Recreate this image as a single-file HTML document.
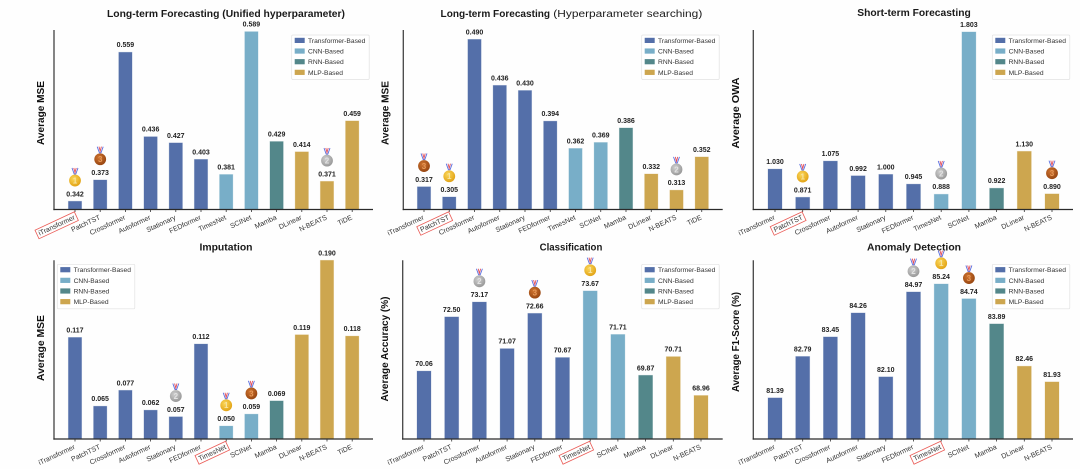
<!DOCTYPE html>
<html lang="en">
<head>
<meta charset="utf-8">
<title>Model benchmark bar charts</title>
<style>
  html, body { margin: 0; padding: 0; background: #fefefe; width: 1080px; height: 469px; overflow: hidden; }
  svg { display: block; filter: blur(0.3px); font-family: "Liberation Sans", sans-serif; }
</style>
</head>
<body>
<svg id="fig" width="1080" height="469" viewBox="0 0 1080 469" xmlns="http://www.w3.org/2000/svg">
  <defs>
    <radialGradient id="grad-gold" cx="40%" cy="35%" r="70%"><stop offset="0" stop-color="#fbd75a"/><stop offset="1" stop-color="#e0a012"/></radialGradient>
    <radialGradient id="grad-silver" cx="40%" cy="35%" r="70%"><stop offset="0" stop-color="#cfcfcf"/><stop offset="1" stop-color="#959595"/></radialGradient>
    <radialGradient id="grad-bronze" cx="40%" cy="35%" r="70%"><stop offset="0" stop-color="#cf7430"/><stop offset="1" stop-color="#94430f"/></radialGradient>
  </defs>
</svg>
<script>
// ---- data ----
const modelsTwelve = ['iTransformer','PatchTST','Crossformer','Autoformer','Stationary','FEDformer','TimesNet','SCINet','Mamba','DLinear','N-BEATS','TiDE'];
const modelsEleven = ['iTransformer','PatchTST','Crossformer','Autoformer','Stationary','FEDformer','TimesNet','SCINet','Mamba','DLinear','N-BEATS'];
const familyTwelve = ['T','T','T','T','T','T','C','C','R','M','M','M'];
const familyEleven = ['T','T','T','T','T','T','C','C','R','M','M'];

const valuesUnified = [0.342,0.373,0.559,0.436,0.427,0.403,0.381,0.589,0.429,0.414,0.371,0.459];
const labelsUnified = ['0.342','0.373','0.559','0.436','0.427','0.403','0.381','0.589','0.429','0.414','0.371','0.459'];
const valuesSearch = [0.317,0.305,0.490,0.436,0.430,0.394,0.362,0.369,0.386,0.332,0.313,0.352];
const labelsSearch = ['0.317','0.305','0.490','0.436','0.430','0.394','0.362','0.369','0.386','0.332','0.313','0.352'];
const valuesShort = [1.030,0.871,1.075,0.992,1.000,0.945,0.888,1.803,0.922,1.130,0.890];
const labelsShort = ['1.030','0.871','1.075','0.992','1.000','0.945','0.888','1.803','0.922','1.130','0.890'];
const valuesImpute = [0.117,0.065,0.077,0.062,0.057,0.112,0.050,0.059,0.069,0.119,0.190,0.118];
const labelsImpute = ['0.117','0.065','0.077','0.062','0.057','0.112','0.050','0.059','0.069','0.119','0.190','0.118'];
const valuesClass = [70.06,72.50,73.17,71.07,72.66,70.67,73.67,71.71,69.87,70.71,68.96];
const labelsClass = ['70.06','72.50','73.17','71.07','72.66','70.67','73.67','71.71','69.87','70.71','68.96'];
const valuesAnomaly = [81.39,82.79,83.45,84.26,82.10,84.97,85.24,84.74,83.89,82.46,81.93];
const labelsAnomaly = ['81.39','82.79','83.45','84.26','82.10','84.97','85.24','84.74','83.89','82.46','81.93'];

const medalsUnified = {0:1, 10:2, 1:3};
const medalsSearch = {1:1, 10:2, 0:3};
const medalsShort = {1:1, 6:2, 10:3};
const medalsImpute = {6:1, 4:2, 7:3};
const medalsClass = {6:1, 2:2, 4:3};
const medalsAnomaly = {6:1, 5:2, 7:3};

const legendEntries = [['T','Transformer-Based'],['C','CNN-Based'],['R','RNN-Based'],['M','MLP-Based']];
const familyColor = {T:'#546fa9', C:'#78aec8', R:'#53878a', M:'#cda64f'};
const medalGrad = {1:'url(#grad-gold)', 2:'url(#grad-silver)', 3:'url(#grad-bronze)'};
const medalInk = {1:'#f7e4a0', 2:'#e2e2e2', 3:'#e89a5a'};

// ---- panel layout ----
const panels = [
  {id:'unified', models:modelsTwelve, fam:familyTwelve, vals:valuesUnified, labs:labelsUnified, medals:medalsUnified, best:0,
   ax:54, x0:75, step:25.2, bw:13.3, axEnd:373, top:30, base:209.5, dMin:0.330, dMax:0.5914,
   yTitle:'Average MSE', yX:40, yC:113, yLen:64, lgX:291.7, lgY:35},
  {id:'search', models:modelsTwelve, fam:familyTwelve, vals:valuesSearch, labs:labelsSearch, medals:medalsSearch, best:1,
   ax:403.3, x0:424, step:25.25, bw:13.3, axEnd:722.7, top:30, base:209.5, dMin:0.2903, dMax:0.501,
   yTitle:'Average MSE', yX:384.3, yC:113, yLen:64, lgX:641.7, lgY:35},
  {id:'short', models:modelsEleven, fam:familyEleven, vals:valuesShort, labs:labelsShort, medals:medalsShort, best:1,
   ax:753.3, x0:775, step:27.7, bw:14, axEnd:1073, top:30, base:209.5, dMin:0.802, dMax:1.814,
   yTitle:'Average OWA', yX:735, yC:113, yLen:71, lgX:992.3, lgY:35},
  {id:'imputation', models:modelsTwelve, fam:familyTwelve, vals:valuesImpute, labs:labelsImpute, medals:medalsImpute, best:6,
   ax:54, x0:75, step:25.2, bw:13.3, axEnd:373, top:260.3, base:439, dMin:0.0402, dMax:0.1753,
   yTitle:'Average MSE', yX:40, yC:348, yLen:66, lgX:57.3, lgY:264.3},
  {id:'classification', models:modelsEleven, fam:familyEleven, vals:valuesClass, labs:labelsClass, medals:medalsClass, best:6,
   ax:402.7, x0:424, step:27.7, bw:14, axEnd:722.7, top:260.3, base:439, dMin:67, dMax:75.05,
   yTitle:'Average Accuracy (%)', yX:384, yC:349, yLen:105, lgX:641.7, lgY:264.3},
  {id:'anomaly', models:modelsEleven, fam:familyEleven, vals:valuesAnomaly, labs:labelsAnomaly, medals:medalsAnomaly, best:6,
   ax:753.3, x0:775, step:27.7, bw:14, axEnd:1073, top:260.3, base:439, dMin:80, dMax:86.04,
   yTitle:'Average F1-Score (%)', yX:735, yC:342, yLen:100, lgX:992.3, lgY:264.3}
];

const titles = [
  {text:'Long-term Forecasting (Unified hyperparameter)', x:226, y:17, len:238, w:'bold'},
  {text:'Long-term Forecasting', x:495.3, y:17, len:109.5, w:'bold'},
  {text:'(Hyperparameter searching)', x:627.8, y:17, len:149, w:'normal'},
  {text:'Short-term Forecasting', x:914, y:16, len:113.5, w:'bold'},
  {text:'Imputation', x:226, y:250.7, len:53, w:'bold'},
  {text:'Classification', x:571, y:250.7, len:62.7, w:'bold'},
  {text:'Anomaly Detection', x:914, y:250.7, len:94, w:'bold'}
];

// ---- drawing ----
const NS = 'http://www.w3.org/2000/svg';
const fig = document.getElementById('fig');
function mk(tag, parent, props) {
  const el = document.createElementNS(NS, tag);
  for (const k in props) el.setAttribute(k, props[k]);
  parent.appendChild(el);
  return el;
}

titles.forEach(function (t) {
  const el = mk('text', fig, {x:t.x, y:t.y, 'text-anchor':'middle', 'font-size':10, 'font-weight':t.w, fill:'#1a1a1a', textLength:t.len, lengthAdjust:'spacingAndGlyphs'});
  
  
  el.textContent = t.text;
});

function drawPanel(p) {
  const g = mk('g', fig, {});
  
  

  const xAt = function (i) { return p.x0 + i * p.step; };
  const yAt = function (v) {
    const y = p.base - (v - p.dMin) / (p.dMax - p.dMin) * (p.base - p.top);
    return Math.max(p.top, Math.min(p.base, y));
  };

  // y axis title
  const yt = mk('text', g, {transform:'translate(' + p.yX + ',' + p.yC + ') rotate(-90)', 'text-anchor':'middle', y:4, 'font-size':10.5, 'font-weight':'bold', fill:'#111', textLength:p.yLen, lengthAdjust:'spacingAndGlyphs'});
  
  
  yt.textContent = p.yTitle;

  // bars, value labels, ticks, tick labels, medals
  p.vals.forEach(function (v, i) {
    const cx = xAt(i), yTop = yAt(v), col = familyColor[p.fam[i]];

    const bar = mk('rect', g, {x:cx - p.bw / 2, y:yTop, width:p.bw, height:Math.max(0, p.base - yTop), fill:col, stroke:col, 'stroke-opacity':0.3, 'stroke-width':0.8});
    
    

    const lab = mk('text', g, {x:cx, y:yTop - 5, 'text-anchor':'middle', 'font-size':7, 'font-weight':'bold', fill:'#222'});
    
    
    lab.textContent = p.labs[i];

    const tick = mk('line', g, {x1:cx, x2:cx, y1:p.base, y2:p.base + 2.5, stroke:'#333', 'stroke-width':0.8});
    
    

    const tg = mk('g', g, {transform:'translate(' + (cx + 0.5) + ',' + (p.base + 9.5) + ') rotate(-25)'});
    
    
    const tl = mk('text', tg, {x:0, y:0, 'text-anchor':'end', 'font-size':7, fill:'#333'});
    
    
    tl.textContent = p.models[i];
    if (i === p.best) {
      const w = tl.getComputedTextLength();
      const box = mk('rect', tg, {x:-w - 2, y:-7, width:w + 4, height:9.5, fill:'none', stroke:'#ea5a55', 'stroke-width':0.8});
      
      
    }

    const rank = p.medals[i];
    if (rank) {
      const my = yTop - 20.7;
      const m = mk('g', g, {});
      
      
      mk('path', m, {d:'M' + (cx - 3) + ' ' + (my - 12.6) + ' L' + (cx - 0.8) + ' ' + (my - 6.5) + ' L' + (cx + 0.8) + ' ' + (my - 6.5) + ' L' + (cx + 3) + ' ' + (my - 12.6), fill:'none', stroke:'#5a6fe0', 'stroke-width':0.9});
      mk('path', m, {d:'M' + (cx - 1.2) + ' ' + (my - 12.6) + ' L' + cx + ' ' + (my - 8) + ' L' + (cx + 1.2) + ' ' + (my - 12.6), fill:'none', stroke:'#e4505a', 'stroke-width':0.9});
      mk('circle', m, {cx:cx, cy:my, r:5.9, fill:medalGrad[rank]});
      const num = mk('text', m, {x:cx, y:my + 2.9, 'text-anchor':'middle', 'font-size':8, 'font-weight':'bold', fill:medalInk[rank]});
      num.textContent = String(rank);
    }
  });

  // axes
  const ya = mk('line', g, {x1:p.ax, x2:p.ax, y1:p.top, y2:p.base + 0.6, stroke:'#444', 'stroke-width':1.3});
  
  
  const xa = mk('line', g, {x1:p.ax - 0.6, x2:p.axEnd, y1:p.base, y2:p.base, stroke:'#2a2a2a', 'stroke-width':1.2});
  
  

  // legend
  const lg = mk('g', g, {});
  
  
  mk('rect', lg, {x:p.lgX, y:p.lgY, width:77.5, height:44.5, rx:1.2, fill:'#ffffff', stroke:'#e2e2e2', 'stroke-width':0.7});
  legendEntries.forEach(function (e, i) {
    const ry = p.lgY + 5.4 + i * 10.65;
    const sw = mk('rect', lg, {x:p.lgX + 3, y:ry - 2.6, width:10, height:5.2, fill:familyColor[e[0]]});
    
    
    const tx = mk('text', lg, {x:p.lgX + 16.3, y:ry + 2.4, 'font-size':6.7, fill:'#333'});
    
    
    tx.textContent = e[1];
  });
}
panels.forEach(drawPanel);
</script>
</body>
</html>
